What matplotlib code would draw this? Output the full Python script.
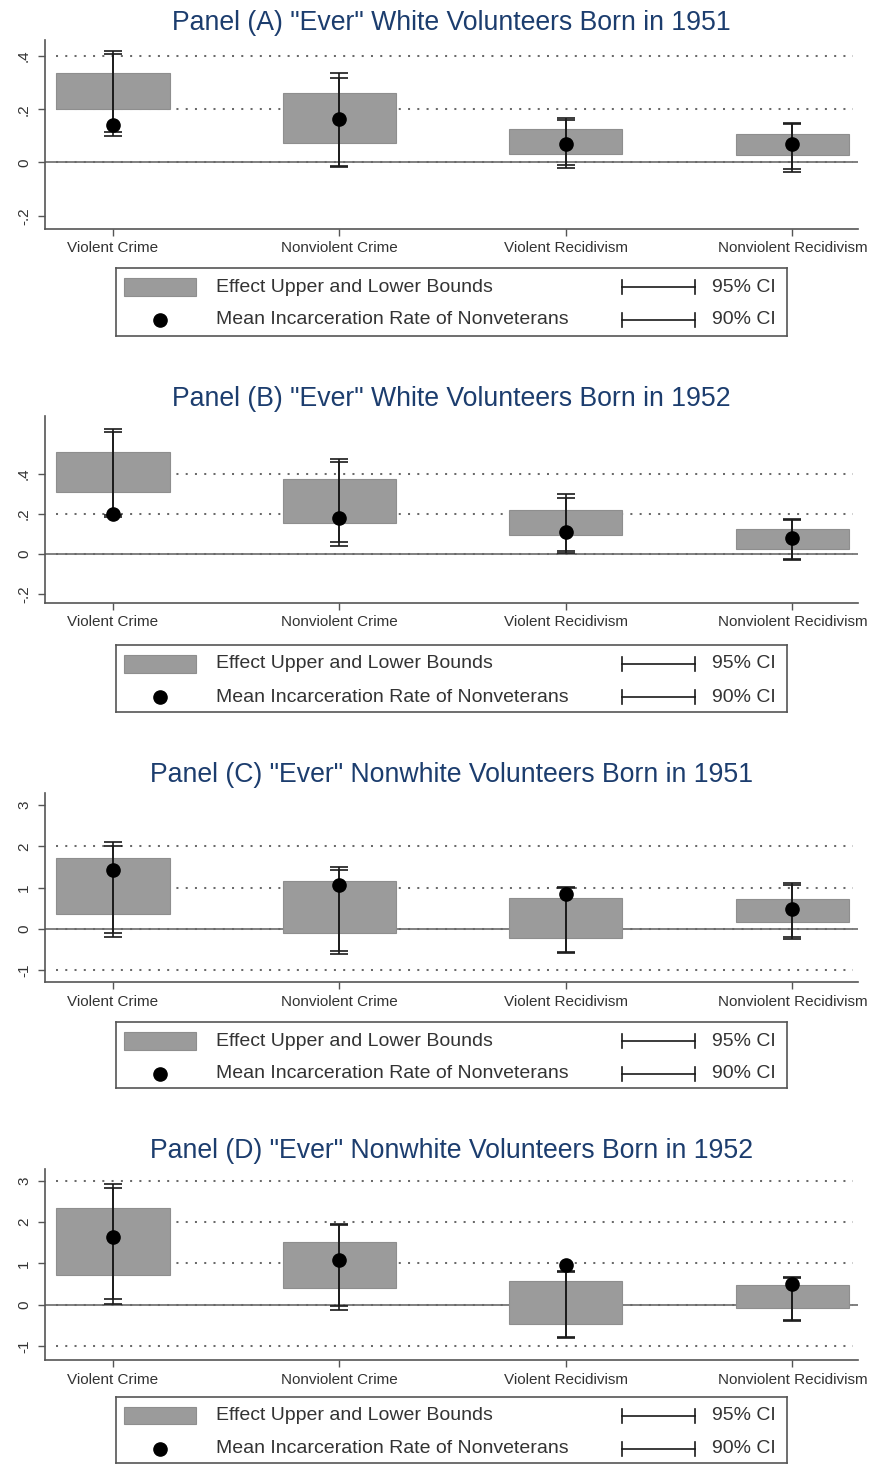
import matplotlib
matplotlib.use("Agg")
import matplotlib.pyplot as plt
from matplotlib.patches import Rectangle
from matplotlib.lines import Line2D
import numpy as np

plt.rcParams['font.family'] = ['Liberation Sans', 'DejaVu Sans']

# ---------------------------------------------------------------- data
categories = ["Violent Crime", "Nonviolent Crime", "Violent Recidivism", "Nonviolent Recidivism"]

titles = [
    'Panel (A) "Ever" White Volunteers Born in 1951',
    'Panel (B) "Ever" White Volunteers Born in 1952',
    'Panel (C) "Ever" Nonwhite Volunteers Born in 1951',
    'Panel (D) "Ever" Nonwhite Volunteers Born in 1952',
]

# effect bounds (lower / upper)
bound_lo_A = [0.200, 0.073, 0.033, 0.029]
bound_hi_A = [0.335, 0.260, 0.125, 0.107]
bound_lo_B = [0.311, 0.154, 0.092, 0.025]
bound_hi_B = [0.510, 0.374, 0.220, 0.125]
bound_lo_C = [0.363, -0.090, -0.210, 0.178]
bound_hi_C = [1.710, 1.160, 0.760, 0.726]
bound_lo_D = [0.710, 0.400, -0.460, -0.080]
bound_hi_D = [2.345, 1.520, 0.565, 0.470]

# mean incarceration rate of nonveterans
mean_A = [0.141, 0.163, 0.070, 0.070]
mean_B = [0.200, 0.179, 0.109, 0.079]
mean_C = [1.430, 1.065, 0.840, 0.476]
mean_D = [1.640, 1.090, 0.955, 0.510]

# 95% confidence intervals
ci95_lo_A = [0.100, -0.017, -0.021, -0.036]
ci95_hi_A = [0.419, 0.335, 0.167, 0.147]
ci95_lo_B = [0.184, 0.040, 0.003, -0.032]
ci95_hi_B = [0.627, 0.476, 0.299, 0.172]
ci95_lo_C = [-0.200, -0.605, -0.590, -0.230]
ci95_hi_C = [2.100, 1.510, 1.010, 1.105]
ci95_lo_D = [0.025, -0.115, -0.800, -0.390]
ci95_hi_D = [2.910, 1.960, 0.830, 0.680]

# 90% confidence intervals
ci90_lo_A = [0.116, -0.012, -0.011, -0.024]
ci90_hi_A = [0.407, 0.319, 0.158, 0.143]
ci90_lo_B = [0.195, 0.059, 0.012, -0.027]
ci90_hi_B = [0.608, 0.460, 0.279, 0.168]
ci90_lo_C = [-0.105, -0.525, -0.560, -0.190]
ci90_hi_C = [2.020, 1.430, 0.985, 1.060]
ci90_lo_D = [0.145, -0.035, -0.770, -0.370]
ci90_hi_D = [2.810, 1.920, 0.800, 0.660]

# axis ticks, tick labels and dotted reference lines
yticks_small = [-0.2, 0.0, 0.2, 0.4]
ylabels_small = ["-.2", "0", ".2", ".4"]
yticks_large = [-1, 0, 1, 2, 3]
ylabels_large = ["-1", "0", "1", "2", "3"]
grid_A = [0.0, 0.2, 0.4]
grid_B = [0.0, 0.2, 0.4]
grid_C = [-1, 0, 1, 2]
grid_D = [-1, 0, 1, 2, 3]

legend_labels = ["Effect Upper and Lower Bounds", "Mean Incarceration Rate of Nonveterans"]
ci_labels = ["95% CI", "90% CI"]

panels = [
    dict(lo=bound_lo_A, hi=bound_hi_A, mean=mean_A, c95=(ci95_lo_A, ci95_hi_A), c90=(ci90_lo_A, ci90_hi_A),
         yt=yticks_small, yl=ylabels_small, grid=grid_A, ylim=(-0.25, 0.46)),
    dict(lo=bound_lo_B, hi=bound_hi_B, mean=mean_B, c95=(ci95_lo_B, ci95_hi_B), c90=(ci90_lo_B, ci90_hi_B),
         yt=yticks_small, yl=ylabels_small, grid=grid_B, ylim=(-0.246, 0.69)),
    dict(lo=bound_lo_C, hi=bound_hi_C, mean=mean_C, c95=(ci95_lo_C, ci95_hi_C), c90=(ci90_lo_C, ci90_hi_C),
         yt=yticks_large, yl=ylabels_large, grid=grid_C, ylim=(-1.28, 3.29)),
    dict(lo=bound_lo_D, hi=bound_hi_D, mean=mean_D, c95=(ci95_lo_D, ci95_hi_D), c90=(ci90_lo_D, ci90_hi_D),
         yt=yticks_large, yl=ylabels_large, grid=grid_D, ylim=(-1.33, 3.28)),
]

# ---------------------------------------------------------------- layout (pixels)
W, H = 870, 1465
DPI = 100
fig = plt.figure(figsize=(W / DPI, H / DPI), dpi=DPI)
fig.patch.set_facecolor("white")


def fx(x):
    return x / W


def fy(y):
    return 1 - y / H


AX_L, AX_R = 45, 858
title_base = [29.5, 405.5, 782.5, 1158.5]
ax_top = [40, 416, 793, 1169]
ax_bot = [229, 603, 982, 1360]
leg_top = [268, 645, 1022, 1397]
leg_bot = [336, 712, 1088, 1463]
LEG_L, LEG_R = 116, 787

TITLE_COLOR = "#1c3d6e"
TEXT_COLOR = "#333333"
AXIS_COLOR = "#555555"
BAR_COLOR = "#9b9b9b"
CI_COLOR = "#1a1a1a"

xpos = np.arange(1, len(categories) + 1)

for i, p in enumerate(panels):
    ax = fig.add_axes([fx(AX_L), fy(ax_bot[i]), fx(AX_R) - fx(AX_L), (ax_bot[i] - ax_top[i]) / H])
    ax.set_xlim(0.70, 4.29)
    ax.set_ylim(*p["ylim"])
    for s in ("top", "right"):
        ax.spines[s].set_visible(False)
    for s in ("left", "bottom"):
        ax.spines[s].set_color(AXIS_COLOR)
        ax.spines[s].set_linewidth(1.2)

    # reference lines
    ax.axhline(0, color="#808080", lw=1.4, zorder=1)
    ax.hlines(p["grid"], 0.75, 4.27, colors="#6a6a6a", linestyles=(0, (1, 3.6)), lw=1.45, zorder=1.2)

    lo = np.array(p["lo"])
    hi = np.array(p["hi"])
    ax.bar(xpos, hi - lo, bottom=lo, width=0.5, color=BAR_COLOR, edgecolor="#8e8e8e", lw=0.8, zorder=2)

    for clo, chi in (p["c95"], p["c90"]):
        clo = np.array(clo)
        chi = np.array(chi)
        mid = (clo + chi) / 2
        ax.errorbar(xpos, mid, yerr=[mid - clo, chi - mid], fmt="none", ecolor=CI_COLOR,
                    elinewidth=1.2, capsize=6.2, capthick=1.2, zorder=3)

    ax.plot(xpos, p["mean"], "o", color="black", ms=9.5, zorder=4)

    ax.set_xticks(xpos)
    ax.set_xticklabels(categories, fontsize=11, color=TEXT_COLOR)
    ax.set_yticks(p["yt"])
    ax.set_yticklabels(p["yl"], fontsize=11, color=TEXT_COLOR, rotation=90, va="center")
    ax.tick_params(axis="x", length=5, width=1, color=AXIS_COLOR, pad=4)
    ax.tick_params(axis="y", length=5, width=1, color=AXIS_COLOR, pad=5)

    fig.text(fx((AX_L + AX_R) / 2), fy(title_base[i]), titles[i], ha="center", va="baseline",
             fontsize=19.2, color=TITLE_COLOR)

    # legend box
    lg = fig.add_axes([fx(LEG_L), fy(leg_bot[i]), fx(LEG_R) - fx(LEG_L), (leg_bot[i] - leg_top[i]) / H])
    lg.set_xlim(LEG_L, LEG_R)
    lg.set_ylim(leg_bot[i], leg_top[i])
    lg.set_xticks([])
    lg.set_yticks([])
    for s in lg.spines.values():
        s.set_color(AXIS_COLOR)
        s.set_linewidth(1.2)
    t = leg_top[i]
    row1, row2 = t + 19, t + 52
    lg.add_patch(Rectangle((124, t + 10), 72, 17.5, facecolor=BAR_COLOR, edgecolor="#8e8e8e", lw=0.8))
    lg.plot([160], [row2], "o", color="black", ms=9.5)
    lg.text(216, row1, legend_labels[0], fontsize=14, color=TEXT_COLOR, va="center", ha="left")
    lg.text(216, row2, legend_labels[1], fontsize=14, color=TEXT_COLOR, va="center", ha="left")
    for r, lab in zip((row1, row2), ci_labels):
        lg.add_line(Line2D([622, 695], [r, r], color=CI_COLOR, lw=1.2))
        lg.add_line(Line2D([622, 622], [r - 7, r + 7], color=CI_COLOR, lw=1.2))
        lg.add_line(Line2D([695, 695], [r - 7, r + 7], color=CI_COLOR, lw=1.2))
        lg.text(712, r, lab, fontsize=14, color=TEXT_COLOR, va="center", ha="left")

fig.savefig("out.png", dpi=DPI, facecolor="white")
